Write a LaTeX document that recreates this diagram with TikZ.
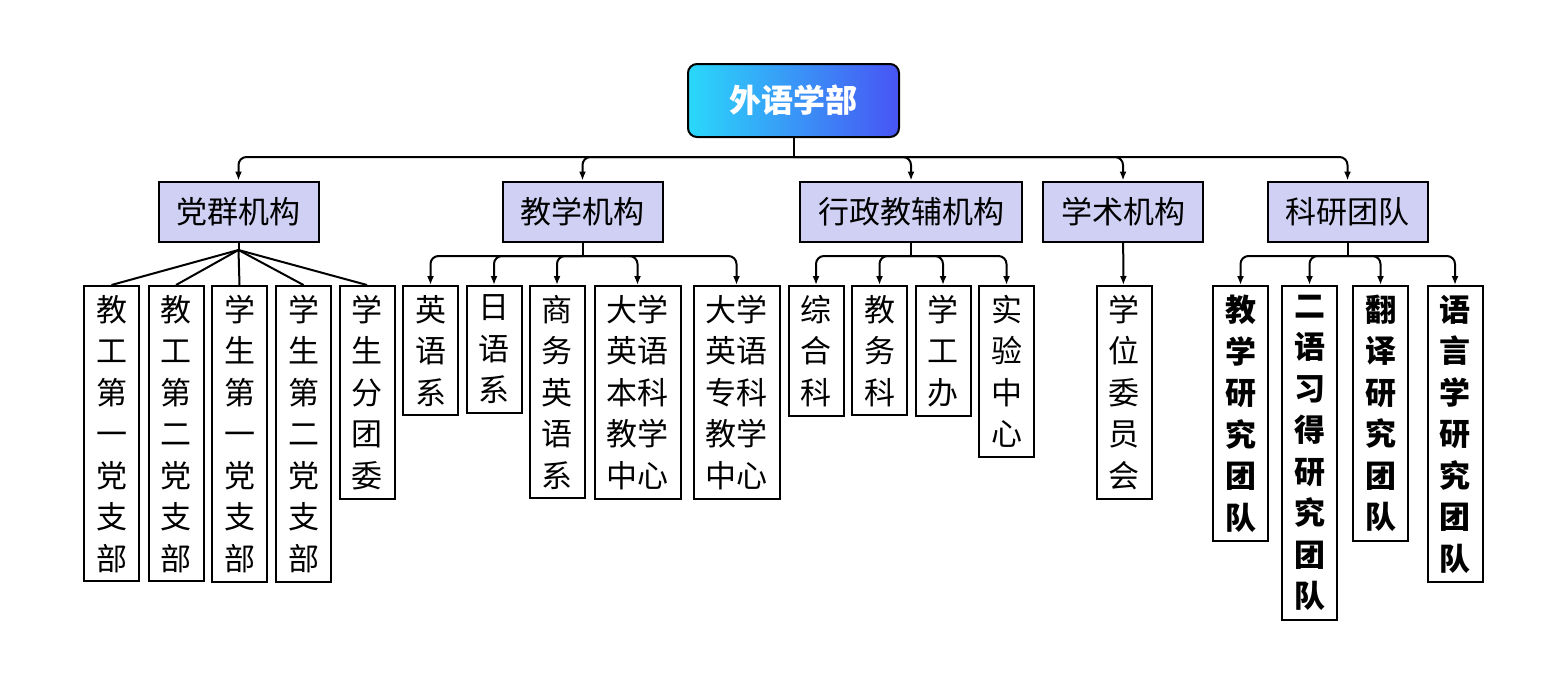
\documentclass[tikz,border=0pt]{standalone}
\usepackage{fontspec}
\newfontfamily\cjk{Noto Sans CJK SC}
\usetikzlibrary{arrows.meta}
\definecolor{RootLeftClr}{RGB}{42,216,250}
\definecolor{RootRightClr}{RGB}{72,84,244}
\definecolor{GroupClr}{RGB}{208,208,245}

\begin{document}
\begin{tikzpicture}[x=1pt,y=-1pt,
  font=\cjk\fontsize{31}{41.5}\selectfont,
  line width=2pt,
  root/.style={draw,rounded corners=9pt,left color=RootLeftClr,right color=RootRightClr,
    text=white,minimum width=211pt,minimum height=73pt,
    font=\cjk\bfseries\fontsize{32}{38}\selectfont},
  group/.style={draw,fill=GroupClr,minimum height=60pt,inner xsep=18pt},
  unit/.style={draw,fill=white,anchor=north,align=center,inner xsep=12pt,inner ysep=9pt},
  team/.style={unit,font=\cjk\bfseries\fontsize{31}{41.5}\selectfont},
  arr/.style={-{Latex[length=9pt,width=7pt]},rounded corners=8pt}]
\useasboundingbox (0,0) rectangle (1565,681);

\node[root] (root) at (793.5,100.5) {外语学部};

\node[group] (dq) at (238.5,211.5) {党群机构};
\node[group] (jx) at (582.5,211.5) {教学机构};
\node[group] (xz) at (911,211.5) {行政教辅机构};
\node[group] (xs) at (1123,211.5) {学术机构};
\node[group] (ky) at (1347.5,211.5) {科研团队};

\node[unit] (d1) at (111.5,285) {教\\工\\第\\一\\党\\支\\部};
\node[unit] (d2) at (176,285) {教\\工\\第\\二\\党\\支\\部};
\node[unit] (d3) at (239.5,285) {学\\生\\第\\一\\党\\支\\部};
\node[unit] (d4) at (303.5,285) {学\\生\\第\\二\\党\\支\\部};
\node[unit] (d5) at (367,285) {学\\生\\分\\团\\委};

\node[unit] (j1) at (430.5,285) {英\\语\\系};
\node[unit] (j2) at (494,285) {日\\语\\系};
\node[unit] (j3) at (557,285) {商\\务\\英\\语\\系};
\node[unit] (j4) at (637.5,285) {大学\\英语\\本科\\教学\\中心};
\node[unit] (j5) at (736.5,285) {大学\\英语\\专科\\教学\\中心};

\node[unit] (x1) at (816,285) {综\\合\\科};
\node[unit] (x2) at (879.5,285) {教\\务\\科};
\node[unit] (x3) at (943,285) {学\\工\\办};
\node[unit] (x4) at (1006.5,285) {实\\验\\中\\心};

\node[unit] (s1) at (1124,285) {学\\位\\委\\员\\会};

\node[team] (k1) at (1240.5,285) {教\\学\\研\\究\\团\\队};
\node[team] (k2) at (1309.5,285) {二\\语\\习\\得\\研\\究\\团\\队};
\node[team] (k3) at (1380.5,285) {翻\\译\\研\\究\\团\\队};
\node[team] (k4) at (1455,285) {语\\言\\学\\研\\究\\团\\队};

\coordinate (bus) at (793.5,157);
\draw (root) -- (bus);
\foreach \g in {dq,jx,xz,xs,ky}
  \draw[arr] (bus) -| (\g.north);

\coordinate (dqfan) at (238.5,250);
\draw (dq) -- (dqfan);
\foreach \u in {d1,d2,d3,d4,d5}
  \draw (dqfan) -- (\u.north);

\coordinate (jxbus) at (582.5,256);
\draw (jx) -- (jxbus);
\foreach \u in {j1,j2,j3,j4,j5}
  \draw[arr] (jxbus) -| (\u.north);

\coordinate (xzbus) at (911,256);
\draw (xz) -- (xzbus);
\foreach \u in {x1,x2,x3,x4}
  \draw[arr] (xzbus) -| (\u.north);

\draw[arr] (xs) -- (s1);

\coordinate (kybus) at (1347.5,256);
\draw (ky) -- (kybus);
\foreach \u in {k1,k2,k3,k4}
  \draw[arr] (kybus) -| (\u.north);

\end{tikzpicture}
\end{document}
